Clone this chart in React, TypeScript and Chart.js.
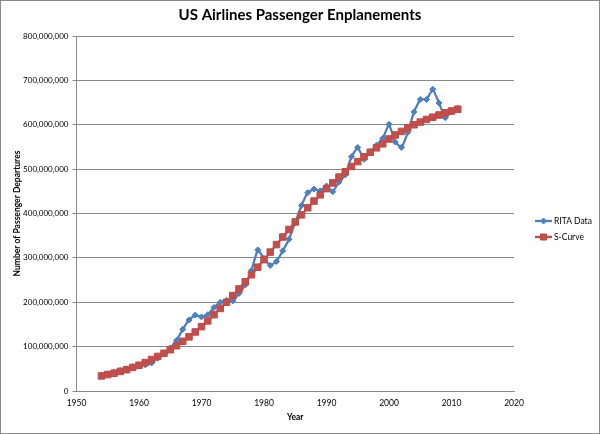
import React, { useEffect, useRef } from "react";
import { Chart, registerables } from "chart.js";

Chart.register(...registerables);

// Years of observation
const years = [
  1954, 1955, 1956, 1957, 1958, 1959, 1960, 1961, 1962, 1963,
  1964, 1965, 1966, 1967, 1968, 1969, 1970, 1971, 1972, 1973,
  1974, 1975, 1976, 1977, 1978, 1979, 1980, 1981, 1982, 1983,
  1984, 1985, 1986, 1987, 1988, 1989, 1990, 1991, 1992, 1993,
  1994, 1995, 1996, 1997, 1998, 1999, 2000, 2001, 2002, 2003,
  2004, 2005, 2006, 2007, 2008, 2009, 2010, 2011,
];

// RITA Data (millions of passengers)
const ritaMillions = [
  35, 39, 43, 47, 50, 55, 58, 59, 63, 74,
  84, 97, 114, 139, 160, 171, 167, 172, 188, 200,
  204, 203, 220, 239, 272, 318, 299, 283, 292, 316,
  342, 380, 418, 447, 455, 451, 462, 449, 471, 487,
  528, 549, 522, 539, 554, 569, 601, 561, 549, 583,
  629, 657, 657, 680, 649, 616, 629, 637,
];

// S-Curve (millions of passengers)
const sCurveMillions = [
  34, 37, 40, 44, 48, 53, 58, 64, 71, 78,
  85, 93, 102, 112, 122, 133, 145, 158, 172, 186,
  200, 215, 230, 246, 262, 279, 296, 313, 330, 347,
  364, 381, 397, 413, 428, 442, 456, 469, 482, 494,
  506, 517, 528, 538, 548, 557, 568, 577, 585, 593,
  600, 606, 612, 617, 622, 627, 631, 635,
];

const seriesLabels = ["RITA Data", "S-Curve"];
const chartTitle = "US Airlines Passenger Enplanements";
const xTitle = "Year";
const yTitle = "Number of Passenger Departures";
const xMin = 1950;
const xMax = 2020;
const xStep = 10;
const yMin = 0;
const yMax = 800000000;
const yStep = 100000000;

const FONT = "Lato, 'Open Sans', sans-serif";
const GRID = "#8a8a8a";
const BLUE_LINE = "#4A7EBB";
const BLUE_FILL = "#4F81BD";
const RED_LINE = "#BE4B48";
const RED_FILL = "#C0504D";

const frame = {
  id: "frame",
  beforeDraw(chart: any) {
    const { ctx, width, height } = chart;
    ctx.save();
    ctx.fillStyle = "#ffffff";
    ctx.fillRect(0, 0, width, height);
    ctx.restore();
  },
  afterDraw(chart: any) {
    const { ctx, width, height } = chart;
    ctx.save();
    ctx.strokeStyle = "#8a8a8a";
    ctx.lineWidth = 1;
    ctx.strokeRect(0.5, 0.5, width - 1, height - 1);
    ctx.restore();
  },
};

const sideLegend = {
  id: "sideLegend",
  afterDraw(chart: any) {
    const { ctx } = chart;
    const area = chart.chartArea;
    const x0 = area.right + 21;
    const x1 = x0 + 17;
    const mid = (area.top + area.bottom) / 2;
    const rows = [mid + 7.5, mid + 23.5];
    chart.data.datasets.forEach((ds: any, i: number) => {
      const y = rows[i];
      ctx.save();
      ctx.strokeStyle = ds.borderColor;
      ctx.lineWidth = ds.borderWidth;
      ctx.beginPath();
      ctx.moveTo(x0, y);
      ctx.lineTo(x1, y);
      ctx.stroke();
      const cx = (x0 + x1) / 2;
      ctx.fillStyle = ds.pointBackgroundColor;
      ctx.strokeStyle = ds.pointBorderColor;
      ctx.lineWidth = 1;
      ctx.beginPath();
      if (ds.pointStyle === "rectRot") {
        const r = 3;
        ctx.moveTo(cx, y - r);
        ctx.lineTo(cx + r, y);
        ctx.lineTo(cx, y + r);
        ctx.lineTo(cx - r, y);
        ctx.closePath();
      } else {
        const s = 3;
        ctx.rect(cx - s, y - s, 2 * s, 2 * s);
      }
      ctx.fill();
      ctx.stroke();
      ctx.fillStyle = "#000000";
      ctx.font = `8.5px ${FONT}`;
      ctx.textAlign = "left";
      ctx.textBaseline = "middle";
      ctx.fillText(ds.label, x1 + 2, y);
      ctx.restore();
    });
  },
};

export default function App() {
  const canvasRef = useRef<HTMLCanvasElement | null>(null);

  useEffect(() => {
    document.body.style.margin = "0";
    const canvas = canvasRef.current;
    if (!canvas) return;
    const rita = years.map((yr, i) => ({ x: yr, y: ritaMillions[i] * 1000000 }));
    const scurve = years.map((yr, i) => ({ x: yr, y: sCurveMillions[i] * 1000000 }));

    const chart = new Chart(canvas, {
      type: "line",
      data: {
        datasets: [
          {
            label: seriesLabels[0],
            data: rita,
            borderColor: BLUE_LINE,
            borderWidth: 2.25,
            pointStyle: "rectRot",
            pointRadius: 3,
            pointBackgroundColor: BLUE_FILL,
            pointBorderColor: BLUE_LINE,
            pointBorderWidth: 1,
            tension: 0.1,
            order: 1,
            yAxisID: "y",
          },
          {
            label: seriesLabels[1],
            data: scurve,
            borderColor: RED_LINE,
            borderWidth: 2.25,
            pointStyle: "rect",
            pointRadius: 4.6,
            pointBackgroundColor: RED_FILL,
            pointBorderColor: RED_LINE,
            pointBorderWidth: 1,
            tension: 0,
            order: 0,
            yAxisID: "y",
          },
        ],
      },
      options: {
        animation: false,
        responsive: false,
        maintainAspectRatio: false,
        devicePixelRatio: 1,
        layout: { padding: { left: 0, right: 0, top: 6.5, bottom: 0 } },
        plugins: {
          legend: { display: false },
          tooltip: { enabled: false },
          title: {
            display: true,
            text: chartTitle,
            color: "#000000",
            font: { family: FONT, size: 15, weight: "bold" },
            padding: { top: 0, bottom: 11.5 },
          },
        },
        scales: {
          x: {
            type: "linear",
            min: xMin,
            max: xMax,
            afterFit: (scale: any) => {
              scale.height = 43;
            },
            ticks: {
              stepSize: xStep,
              color: "#000000",
              font: { family: FONT, size: 8.5 },
              padding: 3,
              maxRotation: 0,
              callback: (v: any) => String(v),
            },
            grid: { display: false, drawTicks: true, tickLength: 4, color: GRID },
            border: { display: true, color: GRID, width: 1 },
            title: {
              display: true,
              text: xTitle,
              color: "#000000",
              font: { family: FONT, size: 8.5, weight: "bold" },
              padding: { top: 0, bottom: 12 },
            },
          },
          y: {
            type: "linear",
            position: "left",
            min: yMin,
            max: yMax,
            afterFit: (scale: any) => {
              scale.width = 76.5;
            },
            ticks: {
              stepSize: yStep,
              color: "#000000",
              font: { family: FONT, size: 8 },
              padding: 4,
              callback: (v: any) => Number(v).toLocaleString("en-US"),
            },
            grid: { color: GRID, lineWidth: 1, drawTicks: true, tickLength: 4 },
            border: { display: true, color: GRID, width: 1 },
            title: {
              display: true,
              text: yTitle,
              color: "#000000",
              font: { family: FONT, size: 8.5, weight: "bold" },
              padding: { top: 12, bottom: 0 },
            },
          },
          legendSpace: {
            type: "linear",
            position: "right",
            display: true,
            afterFit: (scale: any) => {
              scale.width = 86;
            },
            ticks: { display: false },
            grid: { display: false },
            border: { display: false },
          },
        },
      },
      plugins: [frame, sideLegend],
    } as any);

    return () => chart.destroy();
  }, []);

  return (
    <div style={{ width: 600, height: 434 }}>
      <canvas ref={canvasRef} width={600} height={434} style={{ display: "block" }} />
    </div>
  );
}
